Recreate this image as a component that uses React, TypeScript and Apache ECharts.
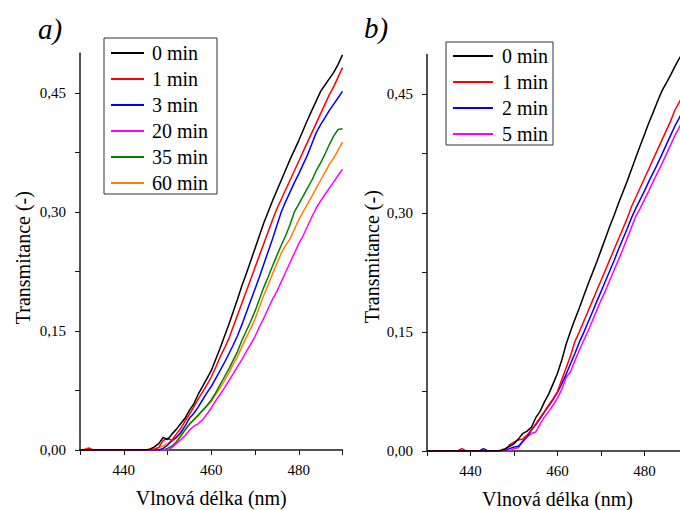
import React, { useEffect, useRef } from "react";
import * as echarts from "echarts";

// Wavelength (nm)
const wavelengths = [
  430, 431, 432, 433, 434, 435, 436, 437, 438, 439,
  440, 441, 442, 443, 444, 445, 446, 447, 448, 449,
  450, 451, 452, 453, 454, 455, 456, 457, 458, 459,
  460, 461, 462, 463, 464, 465, 466, 467, 468, 469,
  470, 471, 472, 473, 474, 475, 476, 477, 478, 479,
  480, 481, 482, 483, 484, 485, 486, 487, 488, 489,
  490,
];

// Panel a)
const a0min = [
  0, 0, 0, 0, 0, 0, 0, 0, 0, 0,
  0, 0, 0, 0, 0, 0, 0.001, 0.004, 0.008, 0.016,
  0.013, 0.02, 0.026, 0.033, 0.04, 0.05, 0.058, 0.07, 0.08, 0.09,
  0.1, 0.114, 0.128, 0.143, 0.158, 0.174, 0.19, 0.207, 0.222, 0.238,
  0.254, 0.27, 0.286, 0.3, 0.314, 0.327, 0.34, 0.353, 0.366, 0.378,
  0.39, 0.403, 0.416, 0.428, 0.44, 0.452, 0.46, 0.468, 0.476, 0.486,
  0.498,
];
const a1min = [
  0, 0, 0.002, 0, 0, 0, 0, 0, 0, 0,
  0, 0, 0, 0, 0, 0, 0, 0.001, 0.003, 0.012,
  0.015, 0.012, 0.02, 0.027, 0.036, 0.045, 0.054, 0.064, 0.073, 0.082,
  0.092, 0.104, 0.117, 0.128, 0.14, 0.155, 0.17, 0.185, 0.2, 0.215,
  0.23, 0.245, 0.26, 0.275, 0.29, 0.304, 0.316, 0.328, 0.34, 0.352,
  0.364, 0.376, 0.388, 0.4, 0.412, 0.424, 0.436, 0.448, 0.458, 0.47,
  0.482,
];
const a3min = [
  0, 0, 0, 0, 0, 0, 0, 0, 0, 0,
  0, 0, 0, 0, 0, 0, 0, 0, 0, 0.002,
  0.006, 0.012, 0.016, 0.022, 0.03, 0.04, 0.046, 0.054, 0.063, 0.072,
  0.08, 0.09, 0.1, 0.11, 0.121, 0.132, 0.144, 0.158, 0.173, 0.188,
  0.203, 0.218, 0.234, 0.25, 0.266, 0.283, 0.3, 0.313, 0.325, 0.337,
  0.348, 0.36, 0.372, 0.386, 0.4, 0.41, 0.419, 0.428, 0.436, 0.444,
  0.452,
];
const a20min = [
  0, 0, 0, 0, 0, 0, 0, 0, 0, 0,
  0, 0, 0, 0, 0, 0, 0, 0, 0, 0,
  0, 0.003, 0.008, 0.013, 0.018, 0.025, 0.03, 0.033, 0.038, 0.045,
  0.053, 0.062, 0.07, 0.078, 0.087, 0.096, 0.105, 0.114, 0.124, 0.133,
  0.143, 0.155, 0.166, 0.178, 0.19, 0.2, 0.212, 0.224, 0.236, 0.248,
  0.26, 0.27, 0.282, 0.294, 0.305, 0.314, 0.322, 0.33, 0.338, 0.346,
  0.354,
];
const a35min = [
  0, 0, 0, 0, 0, 0, 0, 0, 0, 0,
  0, 0, 0, 0, 0, 0, 0, 0, 0, 0,
  0.002, 0.005, 0.01, 0.017, 0.025, 0.032, 0.038, 0.044, 0.05, 0.056,
  0.063, 0.072, 0.082, 0.092, 0.102, 0.113, 0.124, 0.138, 0.15, 0.162,
  0.175, 0.19, 0.205, 0.218, 0.232, 0.245, 0.258, 0.27, 0.284, 0.3,
  0.31, 0.32, 0.33, 0.34, 0.352, 0.362, 0.373, 0.385, 0.396, 0.404,
  0.405,
];
const a60min = [
  0, 0.001, 0.003, 0, 0, 0, 0, 0, 0, 0,
  0, 0, 0, 0, 0, 0, 0.001, 0.002, 0.003, 0.005,
  0.008, 0.011, 0.015, 0.02, 0.026, 0.033, 0.038, 0.043, 0.049, 0.055,
  0.061, 0.07, 0.078, 0.087, 0.097, 0.108, 0.118, 0.13, 0.142, 0.153,
  0.165, 0.18, 0.195, 0.208, 0.222, 0.235, 0.248, 0.258, 0.266, 0.278,
  0.29, 0.3, 0.31, 0.32, 0.33, 0.34, 0.35, 0.36, 0.368, 0.378,
  0.388,
];

// Panel b)
const b0min = [
  0, 0, 0, 0, 0, 0, 0, 0, 0, 0,
  0, 0, 0, 0, 0, 0, 0, 0.001, 0.003, 0.006,
  0.009, 0.015, 0.022, 0.025, 0.03, 0.042, 0.05, 0.062, 0.072, 0.085,
  0.098, 0.115, 0.135, 0.151, 0.166, 0.18, 0.195, 0.21, 0.224, 0.238,
  0.253, 0.268, 0.283, 0.297, 0.312, 0.326, 0.34, 0.355, 0.37, 0.385,
  0.399, 0.414, 0.427, 0.441, 0.454, 0.464, 0.474, 0.485, 0.495, 0.503,
  0.511,
];
const b1min = [
  0, 0, 0, 0, 0, 0, 0, 0, 0.003, 0,
  0, 0, 0, 0, 0, 0, 0, 0, 0.002, 0.008,
  0.011, 0.014, 0.015, 0.02, 0.027, 0.034, 0.042, 0.05, 0.058, 0.066,
  0.075, 0.09, 0.105, 0.12, 0.138, 0.15, 0.163, 0.176, 0.189, 0.202,
  0.215, 0.228, 0.241, 0.254, 0.267, 0.28, 0.293, 0.308, 0.32, 0.332,
  0.344, 0.356, 0.368, 0.38, 0.392, 0.404, 0.416, 0.43, 0.44, 0.45,
  0.46,
];
const b2min = [
  0, 0, 0, 0, 0, 0, 0, 0, 0, 0,
  0, 0, 0, 0.003, 0, 0, 0, 0, 0.001, 0.003,
  0.005, 0.006, 0.012, 0.018, 0.026, 0.033, 0.041, 0.049, 0.057, 0.065,
  0.074, 0.085, 0.097, 0.11, 0.123, 0.137, 0.149, 0.162, 0.175, 0.188,
  0.201, 0.214, 0.227, 0.24, 0.254, 0.267, 0.28, 0.294, 0.306, 0.317,
  0.328, 0.34, 0.351, 0.362, 0.374, 0.386, 0.398, 0.41, 0.42, 0.431,
  0.442,
];
const b5min = [
  0, 0, 0, 0, 0, 0, 0, 0, 0, 0,
  0, 0, 0, 0, 0, 0, 0, 0, 0, 0,
  0.003, 0.004, 0.012, 0.018, 0.022, 0.024, 0.034, 0.043, 0.05, 0.058,
  0.067, 0.078, 0.093, 0.1, 0.114, 0.127, 0.139, 0.151, 0.164, 0.177,
  0.19, 0.202, 0.215, 0.228, 0.241, 0.254, 0.268, 0.282, 0.296, 0.306,
  0.317, 0.328, 0.34, 0.351, 0.362, 0.374, 0.386, 0.398, 0.408, 0.419,
  0.43,
];

const namesA = ["0 min", "1 min", "3 min", "20 min", "35 min", "60 min"];
const namesB = ["0 min", "1 min", "2 min", "5 min"];
const colorsA = ["#000000", "#ff0000", "#0000ff", "#ff00ff", "#008000", "#ff8000"];
const colorsB = ["#000000", "#ff0000", "#0000ff", "#ff00ff"];
const seriesA = [a0min, a1min, a3min, a20min, a35min, a60min];
const seriesB = [b0min, b1min, b2min, b5min];

const xTickValues = [430, 440, 450, 460, 470, 480, 490];
const xLabelValues = [440, 460, 480];
const yTickValues = [0, 0.075, 0.15, 0.225, 0.3, 0.375, 0.45];
const yLabelValues = [0, 0.15, 0.3, 0.45];

const xTitle = "Vlnová délka (nm)";
const yTitle = "Transmitance (-)";

const FONT = "'Liberation Serif', 'Times New Roman', 'DejaVu Serif', serif";

function makeX(gridIndex: number) {
  return {
    type: "value",
    gridIndex,
    min: 430,
    max: 490,
    name: xTitle,
    nameLocation: "middle",
    nameGap: 38,
    nameTextStyle: { fontFamily: FONT, fontSize: 20, color: "#000" },
    axisLine: { show: true, onZero: false, lineStyle: { color: "#1a1a1a", width: 1.5 } },
    axisTick: {
      show: true,
      inside: false,
      length: 5,
      customValues: xTickValues,
      lineStyle: { color: "#1a1a1a", width: 1 },
    },
    axisLabel: {
      customValues: xLabelValues,
      fontFamily: FONT,
      fontSize: 15,
      color: "#000",
      margin: 12,
    },
    splitLine: { show: false },
  };
}

function makeY(gridIndex: number, gap: number, shift: number) {
  return {
    type: "value",
    gridIndex,
    min: 0,
    max: 0.5,
    name: yTitle,
    nameLocation: "middle",
    nameGap: gap,
    nameTextStyle: {
      fontFamily: FONT,
      fontSize: 20,
      color: "#000",
      padding: [0, shift, 0, 0],
    },
    axisLine: { show: true, onZero: false, lineStyle: { color: "#1a1a1a", width: 1.5 } },
    axisTick: {
      show: true,
      inside: false,
      length: 5,
      customValues: yTickValues,
      lineStyle: { color: "#1a1a1a", width: 1 },
    },
    axisLabel: {
      customValues: yLabelValues,
      fontFamily: FONT,
      fontSize: 15,
      color: "#000",
      margin: 14,
      formatter: (v: number) => v.toFixed(2).replace(".", ","),
    },
    splitLine: { show: false },
  };
}

export default function App() {
  const ref = useRef<HTMLDivElement>(null);
  useEffect(() => {
    if (!ref.current) return;
    const chart = echarts.init(ref.current, null, { renderer: "svg" });
    const series: any[] = [];
    seriesA.forEach((arr, i) => {
      series.push({
        type: "line",
        name: namesA[i],
        xAxisIndex: 0,
        yAxisIndex: 0,
        data: wavelengths.map((w, k) => [w, arr[k]]),
        showSymbol: false,
        symbol: "none",
        color: colorsA[i],
        lineStyle: { width: 1.5, color: colorsA[i] },
        clip: true,
        z: 10 - i,
      });
    });
    seriesB.forEach((arr, i) => {
      series.push({
        type: "line",
        name: namesB[i],
        xAxisIndex: 1,
        yAxisIndex: 1,
        data: wavelengths.map((w, k) => [w, arr[k]]),
        showSymbol: false,
        symbol: "none",
        color: colorsB[i],
        lineStyle: { width: 1.5, color: colorsB[i] },
        clip: true,
        z: 10 - i,
      });
    });

    const legendBase = {
      orient: "vertical",
      icon: "rect",
      itemHeight: 2,
      itemGap: 6,
      selectedMode: false,
      borderWidth: 0,
      padding: 0,
    };

    chart.setOption({
      animation: false,
      backgroundColor: "#ffffff",
      textStyle: { fontFamily: FONT },
      grid: [
        {
          left: 80,
          top: 53.3,
          width: 262.5,
          height: 396.7,
          containLabel: false,
          outerBoundsMode: "none",
        },
        {
          left: 427,
          top: 54.5,
          width: 261,
          height: 396.5,
          containLabel: false,
          outerBoundsMode: "none",
        },
      ],
      xAxis: [makeX(0), makeX(1)],
      yAxis: [makeY(0, 47, 12), makeY(1, 45, 8)],
      legend: [
        {
          ...legendBase,
          left: 111,
          top: 43,
          itemWidth: 33,
          data: namesA,
          textStyle: { fontFamily: FONT, fontSize: 20, color: "#000", padding: [0, 0, 0, 3] },
        },
        {
          ...legendBase,
          left: 453,
          top: 46,
          itemWidth: 40,
          data: namesB,
          textStyle: { fontFamily: FONT, fontSize: 20, color: "#000", padding: [0, 0, 0, 4] },
        },
      ],
      graphic: [
        {
          type: "rect",
          shape: { x: 104, y: 38, width: 113, height: 156 },
          style: { fill: "none", stroke: "#333", lineWidth: 1 },
          z: 100,
        },
        {
          type: "rect",
          shape: { x: 446, y: 42, width: 107, height: 103 },
          style: { fill: "none", stroke: "#333", lineWidth: 1 },
          z: 100,
        },
        {
          type: "text",
          left: 38,
          top: 14,
          style: {
            text: "a)",
            fontFamily: FONT,
            fontStyle: "italic",
            fontSize: 29,
            fill: "#000",
          },
        },
        {
          type: "text",
          left: 364,
          top: 13,
          style: {
            text: "b)",
            fontFamily: FONT,
            fontStyle: "italic",
            fontSize: 29,
            fill: "#000",
          },
        },
      ],
      series,
    });
    return () => chart.dispose();
  }, []);
  return (
    <div
      style={{
        position: "fixed",
        left: 0,
        top: 0,
        width: 680,
        height: 510,
        overflow: "hidden",
        background: "#fff",
      }}
    >
      <div ref={ref} style={{ width: 700, height: 510 }} />
    </div>
  );
}
